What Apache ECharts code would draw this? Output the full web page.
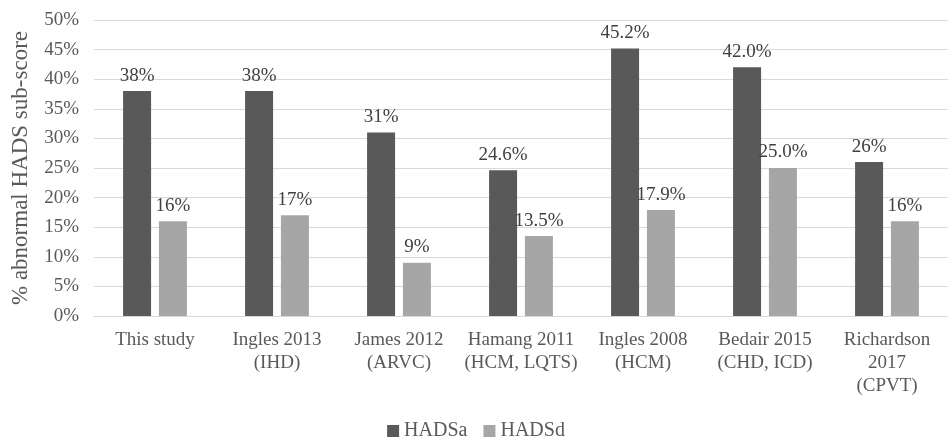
<!DOCTYPE html>
<html>
<head>
<meta charset="utf-8">
<script src="https://cdn.jsdelivr.net/npm/echarts@6/dist/echarts.min.js"></script>
<style>
html,body{margin:0;padding:0;background:#fff;}
#chart{width:952px;height:437px;}
</style>
</head>
<body>
<div id="chart"></div>
<script>
var categories = ['This study', 'Ingles 2013\n(IHD)', 'James 2012\n(ARVC)', 'Hamang 2011\n(HCM, LQTS)', 'Ingles 2008\n(HCM)', 'Bedair 2015\n(CHD, ICD)', 'Richardson\n2017\n(CPVT)'];
var hadsa = [38, 38, 31, 24.6, 45.2, 42.0, 26];
var hadsaLabels = ['38%', '38%', '31%', '24.6%', '45.2%', '42.0%', '26%'];
var hadsd = [16, 17, 9, 13.5, 17.9, 25.0, 16];
var hadsdLabels = ['16%', '17%', '9%', '13.5%', '17.9%', '25.0%', '16%'];

var font = '"Liberation Serif", "Times New Roman", serif';
var chart = echarts.init(document.getElementById('chart'));

function makeData(vals, labels) {
    var out = [];
    for (var i = 0; i < vals.length; i++) {
        out.push({ value: vals[i], label: { formatter: labels[i] } });
    }
    return out;
}

chart.setOption({
    animation: false,
    textStyle: { fontFamily: font },
    grid: { left: 94, right: 4, top: 20, bottom: 121 },
    legend: {
        top: 421,
        left: 'center',
        padding: 0,
        itemWidth: 12,
        itemHeight: 12,
        itemGap: 16,
        icon: 'rect',
        textStyle: { fontFamily: font, fontSize: 20, color: '#595959' },
        data: ['HADSa', 'HADSd']
    },
    xAxis: {
        type: 'category',
        data: categories,
        axisTick: { show: false },
        axisLine: { lineStyle: { color: '#d9d9d9', width: 1 } },
        axisLabel: { color: '#595959', fontSize: 19, fontFamily: font, lineHeight: 23, margin: 13, interval: 0 }
    },
    yAxis: {
        type: 'value',
        min: 0,
        max: 50,
        interval: 5,
        name: '% abnormal HADS sub-score',
        nameLocation: 'middle',
        nameGap: 62,
        nameTextStyle: { color: '#595959', fontSize: 23, fontFamily: font },
        axisLine: { show: false },
        axisTick: { show: false },
        splitLine: { lineStyle: { color: '#d9d9d9' } },
        axisLabel: { color: '#595959', fontSize: 19, fontFamily: font, margin: 15, formatter: '{value}%' }
    },
    series: [
        {
            name: 'HADSa',
            type: 'bar',
            barWidth: 28,
            barGap: '28%',
            itemStyle: { color: '#595959' },
            label: { show: true, position: 'top', distance: 6, color: '#404040', fontSize: 19, fontFamily: font },
            data: makeData(hadsa, hadsaLabels)
        },
        {
            name: 'HADSd',
            type: 'bar',
            barWidth: 28,
            itemStyle: { color: '#a6a6a6' },
            label: { show: true, position: 'top', distance: 6, color: '#404040', fontSize: 19, fontFamily: font },
            data: makeData(hadsd, hadsdLabels)
        }
    ]
});
</script>
</body>
</html>
